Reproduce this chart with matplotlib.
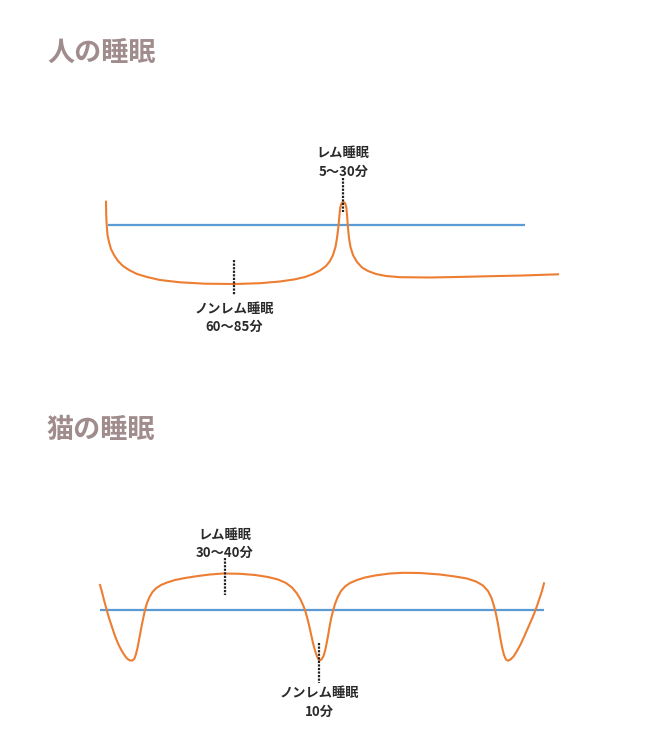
import matplotlib.pyplot as plt

plt.rcParams['font.family'] = ['Noto Sans CJK JP', 'DejaVu Sans']

# sleep depth curves
# t = time (arbitrary units), level = height above the blue line (up = lighter sleep)
human_t = [6, 6.2, 6.7, 7.5, 9, 11, 14, 18, 23, 29, 37, 47, 60, 80, 105, 135, 160, 180,
           195, 205, 213, 220, 226, 230, 233, 235.5, 237, 238.3, 239.3, 240.2, 241.2,
           242.3, 243.3, 244.4, 245.5, 246.4, 247.2, 248, 249, 250.5, 253, 257, 262,
           268, 276, 286, 300, 330, 357, 390, 423, 458]
human_level = [23.3, 10, 0, -10, -17, -24, -30, -36, -41, -45, -49, -52, -55, -57.3,
               -58.7, -59, -58.2, -56.5, -54.3, -52, -49, -45.5, -41, -36, -30, -22,
               -13, -3, 8, 17, 21, 22.5, 22.8, 22.5, 21, 17, 8, -3, -13, -22, -30, -37,
               -42.5, -46, -49, -51, -52.2, -52.5, -52, -51.2, -50.5, -49.3]

cat_t = [0, 2, 4, 6.7, 9, 12, 15, 18, 21, 24, 27, 30, 32.5, 34.5, 36, 37.5, 39, 40.5,
         42, 43.5, 45, 47, 49.5, 52.5, 56, 61, 67, 75, 85, 98, 110, 123, 140, 155, 168,
         178, 186, 192, 197, 200.5, 203, 205, 207, 209, 211, 213, 215, 217, 219.3,
         221.5, 223.5, 225, 226.5, 228, 229.5, 231, 233, 235, 237.5, 241, 245, 250,
         257, 265, 275, 290, 303, 320, 340, 355, 367, 376, 383, 388, 391.5, 394, 396,
         398, 400, 402, 404, 406, 408, 410.5, 413.5, 417, 420.5, 424, 427.5, 431, 434,
         436.7, 439.5, 442, 444]
cat_level = [24.5, 17.5, 9.5, -0.5, -8.5, -17.5, -26.5, -34, -40, -45, -49, -51, -51,
             -49, -44.5, -38.5, -30.5, -22.5, -14.5, -7.5, -0.5, 6.5, 12.5, 17.5, 21.2,
             24.5, 27, 29.5, 31.5, 33.5, 35, 36, 35.7, 34.5, 32.5, 30, 26.5, 22, 16, 10,
             4.5, -0.5, -7.5, -15.5, -24.5, -33.5, -41, -47, -51, -50, -46.5, -41.5,
             -34.5, -26.5, -17.5, -9.5, -1.5, 5.5, 12, 18.5, 23, 26.5, 29.5, 32, 34, 36,
             36.7, 36.5, 35, 33, 31, 28, 24, 18.5, 11.5, 3.5, -4.5, -14.5, -26.5, -37.5,
             -45.5, -50, -51.2, -50, -47, -41.5, -35, -27.5, -19.5, -11.5, -4.5, 2.8,
             11, 18.5, 26.2]

# blue threshold line: start/end time
human_line = [8, 425]
cat_line = [0, 444]

# annotations: (time, text lines, dotted line top, dotted line bottom, text levels)
human_notes = [
    (243.3, ['レム睡眠', '5〜30分'], 47, 13, [72, 53.5]),
    (134.3, ['ノンレム睡眠', '60〜85分'], -35, -70, [-84, -101.7]),
]
cat_notes = [
    (125, ['レム睡眠', '30〜40分'], 51.5, 14.5, [74.5, 56.5]),
    (219.3, ['ノンレム睡眠', '10分'], -33.5, -73.5, [-83.5, -102]),
]

orange = '#ED7D31'
blue = '#5B9BD5'
title_color = '#a08c8c'

fig = plt.figure(figsize=(6.51, 7.49), dpi=100)

fig.text(47 / 651, 1 - 53 / 749, '人の睡眠', fontsize=19.5, fontweight='bold',
         color=title_color, va='center', ha='left')
fig.text(47 / 651, 1 - 430 / 749, '猫の睡眠', fontsize=19.5, fontweight='bold',
         color=title_color, va='center', ha='left')


def panel(rect, ylim, t, level, line, notes):
    ax = fig.add_axes(rect)
    ax.set_xlim(-100, 551)
    ax.set_ylim(*ylim)
    ax.axis('off')
    ax.plot(line, [0, 0], color=blue, lw=1.6, solid_capstyle='butt')
    ax.plot(t, level, color=orange, lw=1.5, solid_joinstyle='round')
    for x, lines, top, bottom, text_y in notes:
        ax.plot([x, x], [top, bottom], color='#222222', lw=1.6, linestyle=(0, (1, 0.6)))
        for s, y in zip(lines, text_y):
            ax.text(x, y, s, ha='center', va='center', fontsize=9.5,
                    fontweight='bold', color='#2a2a2a')
    return ax


# panel 1 spans pixel rows 120..350, blue line at row 225
panel([0, (749 - 350) / 749, 1, 230 / 749], (225 - 350, 225 - 120),
      human_t, human_level, human_line, human_notes)
# panel 2 spans pixel rows 500..730, blue line at row 609.5
panel([0, (749 - 730) / 749, 1, 230 / 749], (609.5 - 730, 609.5 - 500),
      cat_t, cat_level, cat_line, cat_notes)

fig.savefig('out.png', dpi=100)
